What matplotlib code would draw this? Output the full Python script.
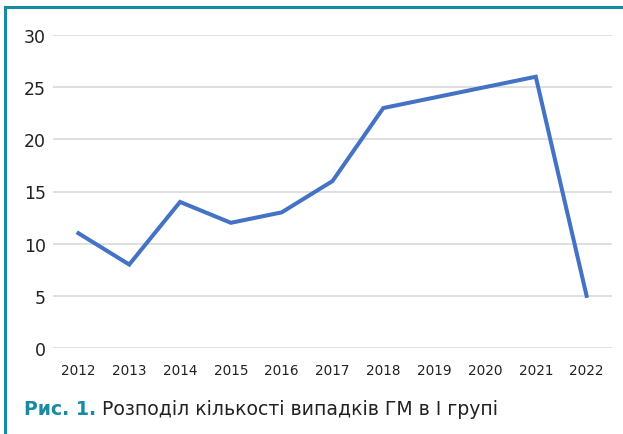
import matplotlib
matplotlib.use("Agg")
import matplotlib.pyplot as plt
from matplotlib.lines import Line2D

# дані
years = ["2012", "2013", "2014", "2015", "2016", "2017", "2018", "2019", "2020", "2021", "2022"]
cases = [11, 8, 14, 12, 13, 16, 23, 24, 25, 26, 5]
y_ticks = [0, 5, 10, 15, 20, 25, 30]

TEAL = "#1a8aa0"
BLUE = "#4472c4"

plt.rcParams['font.family'] = ['DejaVu Sans']

W, H = 623, 435
fig = plt.figure(figsize=(W / 100, H / 100), dpi=100)
ax = fig.add_axes([53 / W, 1 - 349 / H, (612 - 53) / W, (349 - 36) / H])

x = list(range(len(years)))
ax.plot(x, cases, color=BLUE, linewidth=2.9, solid_joinstyle="miter")

ax.set_xlim(-0.5, len(years) - 0.5)
ax.set_ylim(0, 30)
ax.set_yticks(y_ticks)
ax.set_xticks(x)
ax.set_xticklabels(years)
ax.grid(axis="y", color="#d9d9d9", linewidth=1.2)
ax.set_axisbelow(True)
for s in ax.spines.values():
    s.set_visible(False)
ax.tick_params(axis="both", length=0)
ax.tick_params(axis="y", labelsize=12.5, colors="#222222", pad=5)
ax.tick_params(axis="x", labelsize=9.8, colors="#222222", pad=11)

# рамка зверху і зліва
fig.add_artist(Line2D([5 / W, 1], [1 - 8 / H, 1 - 8 / H], color=TEAL, linewidth=2.2,
                      transform=fig.transFigure))
fig.add_artist(Line2D([5 / W, 5 / W], [0, 1 - 8 / H], color=TEAL, linewidth=2.2,
                      transform=fig.transFigure))

# підпис
t = fig.text(24 / W, 1 - 410 / H, "Рис. 1.", color=TEAL, fontsize=13.6, fontweight="bold",
             va="center", ha="left")
fig.canvas.draw()
bb = t.get_window_extent()
fig.text((bb.x1 + 6) / W, 1 - 410 / H, "Розподіл кількості випадків ГМ в І групі",
         color="#222222", fontsize=13.6, va="center", ha="left")

fig.savefig("out.png", dpi=100)
